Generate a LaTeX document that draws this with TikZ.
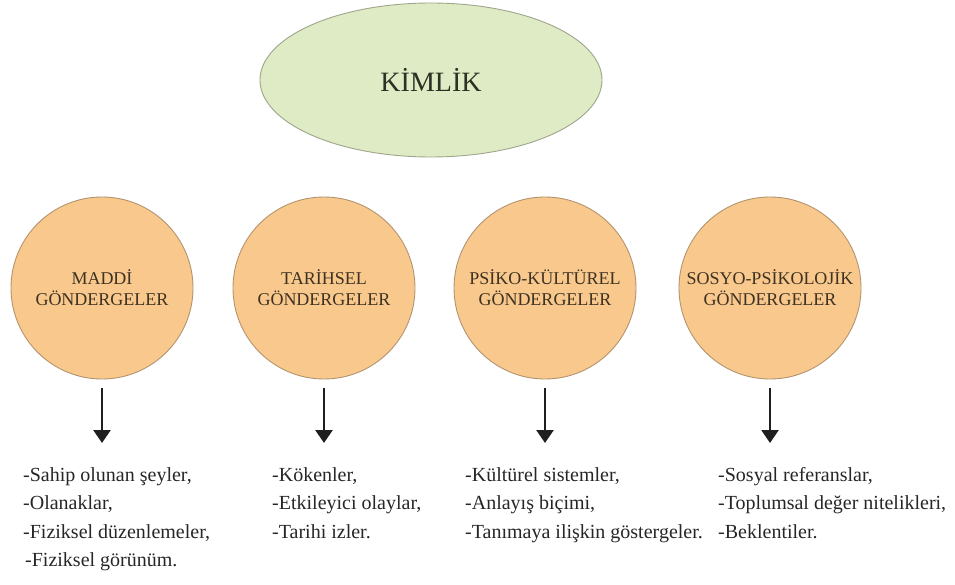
\documentclass[tikz,border=0pt]{standalone}
\usepackage{fontspec}
\setmainfont{Liberation Serif}
\usetikzlibrary{shapes.geometric,arrows.meta}

\definecolor{rootfill}{HTML}{DEEBC4}
\definecolor{rootdraw}{HTML}{9DA68C}
\definecolor{rootText}{HTML}{2C3124}
\definecolor{refFill}{HTML}{F9C88C}
\definecolor{refDraw}{HTML}{B39470}
\definecolor{refText}{HTML}{3E3222}
\definecolor{listText}{HTML}{262626}

\tikzset{
  root/.style={ellipse, draw=rootdraw, line width=0.9pt, fill=rootfill,
    minimum width=342pt, minimum height=154pt, inner sep=0pt,
    text=rootText, font=\fontsize{28}{32}\selectfont},
  refcircle/.style={circle, draw=refDraw, line width=0.9pt, fill=refFill,
    minimum size=182pt, inner sep=0pt, align=center,
    text=refText, font=\fontsize{18}{21}\selectfont},
  itemlist/.style={anchor=north west, inner sep=0pt, align=left,
    text=listText, font=\fontsize{20}{28.5}\selectfont},
  downarrow/.style={draw=black!88, line width=2.6pt,
    -{Triangle[length=13pt,width=17pt]}}
}

\begin{document}
\begin{tikzpicture}[x=1pt,y=-1pt]
  \useasboundingbox (0,0) rectangle (955,585);

  % top concept
  \node[root] (kimlik) at (431,80) {\raisebox{-2pt}{KİMLİK}};

  % the four kinds of reference
  \node[refcircle] (maddi)   at (102,288) {MADDİ\\GÖNDERGELER};
  \node[refcircle] (tarih)   at (324,288) {TARİHSEL\\GÖNDERGELER};
  \node[refcircle] (psiko)   at (545,288) {PSİKO-KÜLTÜREL\\GÖNDERGELER};
  \node[refcircle] (sosyo)   at (770,288) {SOSYO-PSİKOLOJİK\\GÖNDERGELER};

  % item lists
  \node[itemlist] (lmaddi) at (23,467)
    {-Sahip olunan şeyler,\\-Olanaklar,\\-Fiziksel düzenlemeler,\\\hspace*{2pt}-Fiziksel görünüm.};
  \node[itemlist] (ltarih) at (272,467)
    {-Kökenler,\\-Etkileyici olaylar,\\-Tarihi izler.};
  \node[itemlist] (lpsiko) at (465,467)
    {-Kültürel sistemler,\\-Anlayış biçimi,\\-Tanımaya ilişkin göstergeler.};
  \node[itemlist] (lsosyo) at (718,467)
    {-Sosyal referanslar,\\-Toplumsal değer nitelikleri,\\-Beklentiler.};

  % arrows from each circle down to its list
  \draw[downarrow, shorten <=9pt, shorten >=24pt] (maddi.south) -- (maddi.south |- lmaddi.north);
  \draw[downarrow, shorten <=9pt, shorten >=24pt] (tarih.south) -- (tarih.south |- ltarih.north);
  \draw[downarrow, shorten <=9pt, shorten >=24pt] (psiko.south) -- (psiko.south |- lpsiko.north);
  \draw[downarrow, shorten <=9pt, shorten >=24pt] (sosyo.south) -- (sosyo.south |- lsosyo.north);
\end{tikzpicture}
\end{document}
